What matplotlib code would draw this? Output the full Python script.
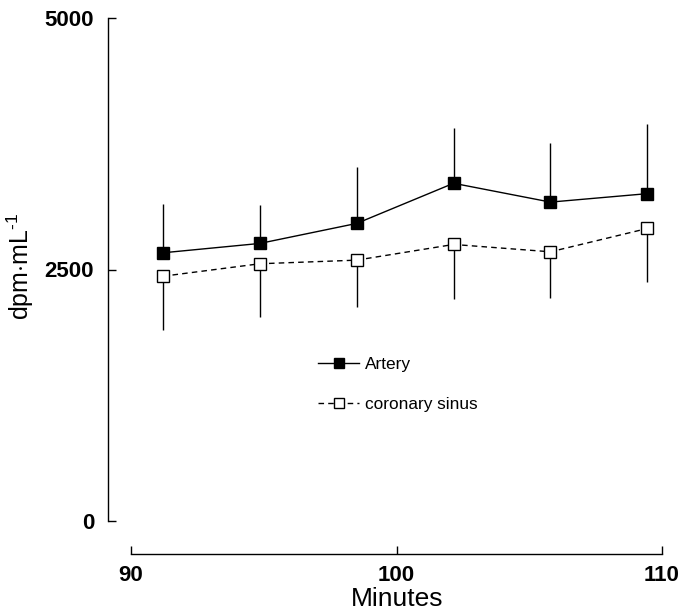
import matplotlib
matplotlib.use("Agg")
import matplotlib.pyplot as plt

plt.rcParams['font.family'] = ['Liberation Sans', 'DejaVu Sans']
plt.rcParams['mathtext.fontset'] = 'custom'
plt.rcParams['mathtext.rm'] = 'Liberation Sans'
plt.rcParams['mathtext.it'] = 'Liberation Sans:italic'
plt.rcParams['mathtext.bf'] = 'Liberation Sans:bold'

# Data
minutes = [91.2, 94.85, 98.5, 102.15, 105.8, 109.45]
artery = [2666, 2759, 2958, 3357, 3170, 3254]
artery_sd = [481, 378, 565, 554, 585, 697]
sinus = [2433, 2557, 2593, 2749, 2676, 2908]
sinus_sd = [538, 528, 465, 538, 458, 535]

x_ticks = [90, 100, 110]
y_ticks = [0, 2500, 5000]

DPI = 100
fig = plt.figure(figsize=(6.81, 6.11), dpi=DPI)
W, H = 681, 611
ax = fig.add_axes([131 / W, 1 - 521 / H, (662 - 131) / W, (521 - 18) / H])
ax.set_xlim(90, 110)
ax.set_ylim(0, 5000)

# error bars: artery upward, sinus downward
ax.errorbar(minutes, artery, yerr=[[0] * len(artery), artery_sd], fmt='none',
            ecolor='black', elinewidth=1.0, capsize=0, zorder=2)
ax.errorbar(minutes, sinus, yerr=[sinus_sd, [0] * len(sinus)], fmt='none',
            ecolor='black', elinewidth=1.0, capsize=0, zorder=2)

ax.plot(minutes, artery, color='black', lw=1.0, marker='s', ms=8.6,
        mfc='black', mec='black', mew=1.0, label='Artery', zorder=3)
ax.plot(minutes, sinus, color='black', lw=1.0, ls=(0, (4, 3)), marker='s', ms=8.6,
        mfc='white', mec='black', mew=1.0, label='coronary sinus', zorder=3)

# spines
for s in ['top', 'right']:
    ax.spines[s].set_visible(False)
ax.spines['left'].set_position(('outward', 23 * 72 / DPI))
ax.spines['bottom'].set_position(('outward', 33 * 72 / DPI))
ax.spines['left'].set_bounds(0, 5000)
ax.spines['bottom'].set_bounds(90, 110)
ax.spines['left'].set_linewidth(1.0)
ax.spines['bottom'].set_linewidth(1.0)

ax.set_xticks(x_ticks)
ax.set_yticks(y_ticks)
ax.set_xticklabels([str(t) for t in x_ticks])
ax.set_yticklabels([str(t) for t in y_ticks])
ax.tick_params(axis='both', direction='in', length=6, width=1.0, labelsize=16)
ax.tick_params(axis='y', pad=10)
ax.tick_params(axis='x', pad=8)
for lab in ax.get_xticklabels() + ax.get_yticklabels():
    lab.set_fontweight('bold')

ax.set_xlabel('Minutes', fontsize=19)
ax.xaxis.set_label_coords(397 / W, 1 - 587 / H, transform=fig.transFigure)
ax.set_ylabel('dpm$\\cdot$mL$^{\u2010 1}$', fontsize=18)
ax.yaxis.set_label_coords(36 / W, 1 - 266 / H, transform=fig.transFigure)

leg = ax.legend(loc='upper left', bbox_to_anchor=(318 / W, 1 - 357 / H),
                bbox_transform=fig.transFigure, frameon=False, fontsize=12.4,
                handlelength=2.4, handletextpad=0.35, labelspacing=1.45,
                borderpad=0, borderaxespad=0, markerscale=0.8)

fig.savefig('out.png', dpi=DPI)
